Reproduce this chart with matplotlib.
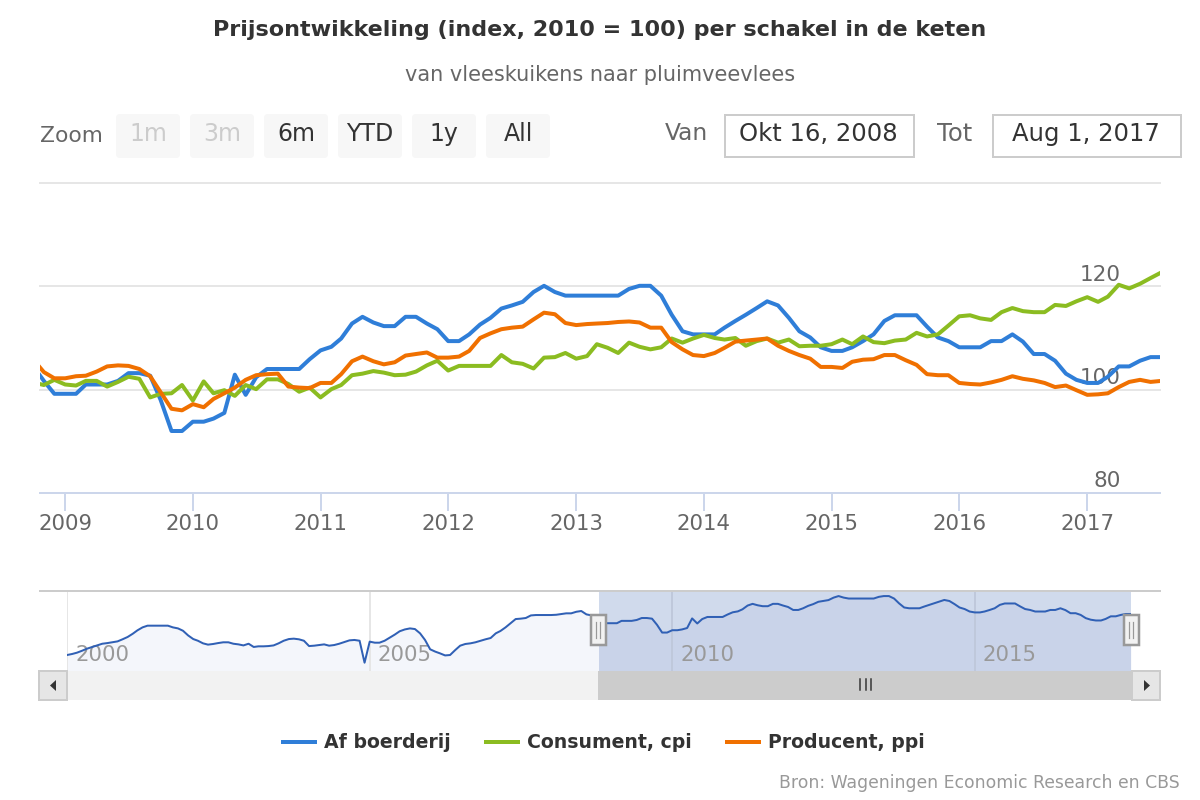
import matplotlib
matplotlib.use("Agg")
import matplotlib.pyplot as plt
import matplotlib.dates as mdates
from matplotlib.patches import FancyBboxPatch, Polygon, Rectangle
import numpy as np
import pandas as pd

# Monthly index values, Oct 2008 - Aug 2017.
months = pd.date_range("2008-10-01", "2017-08-01", freq="MS")

af_boerderij = [
    104.6, 101.7, 99.2,
    99.2, 99.2, 101, 101, 101, 101.7, 103.2, 103.2, 102.7, 98, 92, 92,
    93.8, 93.8, 94.4, 95.5, 102.9, 99, 102.4, 104, 104, 104, 104, 105.9,
    107.6, 108.3, 109.9, 112.8, 114.1, 113, 112.3, 112.3, 114.1, 114.1, 112.8, 111.7,
    109.4, 109.4, 110.7, 112.6, 113.9, 115.7, 116.3, 117, 118.9, 120.1, 118.9, 118.2,
    118.2, 118.2, 118.2, 118.2, 118.2, 119.5, 120.1, 120.1, 118.2, 114.5, 111.3, 110.7,
    110.7, 110.7, 112, 113.3, 114.5, 115.8, 117.1, 116.3, 113.9, 111.3, 110.1, 108.2,
    107.5, 107.5, 108.2, 109.4, 110.7, 113.3, 114.4, 114.4, 114.4, 112.2, 110.1, 109.4,
    108.2, 108.2, 108.2, 109.4, 109.4, 110.7, 109.3, 106.9, 106.9, 105.6, 103.1, 101.9,
    101.3, 101.3, 102.5, 104.5, 104.5, 105.6, 106.3, 106.3,
]
consument = [
    101.4, 100.9, 101.9,
    101, 100.8, 101.7, 101.7, 100.6, 101.5, 102.5, 102.1, 98.5, 99.2, 99.3, 100.9,
    97.9, 101.6, 99.3, 99.9, 98.8, 100.9, 100.1, 102, 102, 101.1, 99.6, 100.4,
    98.5, 100.1, 100.9, 102.8, 103.1, 103.6, 103.3, 102.8, 102.9, 103.5, 104.7, 105.6,
    103.7, 104.6, 104.6, 104.6, 104.6, 106.7, 105.3, 105, 104.1, 106.2, 106.3, 107.1,
    106, 106.5, 108.8, 108.1, 107.1, 109.1, 108.3, 107.8, 108.2, 109.9, 109.1, 109.9,
    110.6, 110, 109.7, 110, 108.5, 109.4, 109.9, 109.1, 109.7, 108.4, 108.5, 108.5,
    108.8, 109.7, 108.8, 110.3, 109.2, 109, 109.5, 109.7, 111, 110.3, 110.7, 112.4,
    114.2, 114.4, 113.8, 113.5, 115, 115.8, 115.2, 115, 115, 116.4, 116.2, 117.1,
    117.9, 117, 118, 120.3, 119.6, 120.5, 121.6, 122.7,
]
producent = [
    105.9, 103.4, 102.2,
    102.2, 102.6, 102.7, 103.5, 104.5, 104.7, 104.6, 104, 102.6, 99.5, 96.3, 96,
    97.2, 96.6, 98.2, 99.3, 100.4, 101.9, 102.8, 103, 103.1, 100.6, 100.4, 100.3,
    101.3, 101.3, 103, 105.5, 106.4, 105.5, 104.9, 105.3, 106.6, 106.9, 107.2, 106.2,
    106.2, 106.4, 107.5, 110, 110.9, 111.7, 112, 112.2, 113.6, 114.9, 114.6, 112.9,
    112.5, 112.7, 112.8, 112.9, 113.1, 113.2, 113, 112, 112, 109.2, 107.8, 106.7,
    106.5, 107.1, 108.1, 109.3, 109.5, 109.7, 109.9, 108.5, 107.5, 106.7, 106, 104.4,
    104.4, 104.2, 105.4, 105.8, 105.9, 106.7, 106.7, 105.7, 104.8, 103, 102.8, 102.8,
    101.3, 101.1, 101, 101.4, 101.9, 102.6, 102.1, 101.8, 101.3, 100.5, 100.8, 99.9,
    99, 99.1, 99.3, 100.5, 101.5, 101.9, 101.5, 101.7,
]

# Older part of the farm series, only shown in the navigator (Jan 2000 - Sep 2008).
history_months = pd.date_range("2000-01-01", "2008-09-01", freq="MS")
history = [
    74.7, 75.5, 76.5, 78, 79.6, 80.9, 82.2, 83.4, 83.9, 84.5, 85.2, 86.8,
    88.6, 91.1, 93.7, 96, 97.3, 97.3, 97.3, 97.3, 97.3, 96, 95.2, 93.4,
    89.8, 87, 85.7, 83.7, 82.7, 83.2, 83.9, 84.5, 84.5, 83.4, 82.9, 82.1,
    83.4, 80.9, 81.4, 81.4, 81.6, 82.1, 83.7, 85.7, 87, 87.3, 86.8, 85.7,
    81.6, 81.9, 82.4, 82.9, 81.9, 82.4, 83.4, 84.7, 86, 86.3, 85.7, 68.8,
    85, 84.2, 84.2, 85.7, 88, 90.4, 93, 94.4, 95.2, 94.7, 91.4, 86.3,
    79.1, 77.3, 76, 74.4, 74.7, 78.5, 81.9, 83.2, 83.7, 84.5, 85.7, 86.8,
    87.8, 91.4, 93.2, 96, 99.1, 102.4, 102.7, 103.2, 105.2, 105.5, 105.5, 105.5,
    105.5, 105.7, 106.2, 106.8, 106.8, 108, 108.6, 106, 105.2,
]

y_ticks = [80, 100, 120, 140]
y_labels = ["80", "100", "120"]
nav_years = [2000, 2005, 2010, 2015]
range_buttons = ["1m", "3m", "6m", "YTD", "1y", "All"]
disabled_buttons = ["1m", "3m"]

BLUE = "#2f7ed8"
GREEN = "#8bbc21"
ORANGE = "#f07000"
GRID = "#e6e6e6"
PX = 0.72  # one pixel in points at dpi 100

fig = plt.figure(figsize=(12, 8), dpi=100)


def px_axes(left, top, right, bottom, **kwargs):
    return fig.add_axes(
        [left / 1200, 1 - bottom / 800, (right - left) / 1200, (bottom - top) / 800],
        **kwargs,
    )


# Main chart.
ax = px_axes(40, 183, 1160, 493)
ax.plot(months, af_boerderij, color=BLUE, lw=4 * PX, label="Af boerderij", zorder=3)
ax.plot(months, consument, color=GREEN, lw=4 * PX, label="Consument, cpi", zorder=4)
ax.plot(months, producent, color=ORANGE, lw=4 * PX, label="Producent, ppi", zorder=5)
ax.set_xlim(pd.Timestamp("2008-10-21"), pd.Timestamp("2017-07-28"))
ax.set_ylim(80.27, 140)
ax.set_yticks(y_ticks)
ax.set_yticklabels([])
ax.grid(axis="y", color=GRID, lw=2 * PX)
for line in ax.get_ygridlines():
    line.set_clip_on(False)
ax.set_axisbelow(True)
ax.xaxis.set_major_locator(mdates.YearLocator())
ax.xaxis.set_major_formatter(mdates.DateFormatter("%Y"))
ax.tick_params(axis="x", length=18 * PX, width=2 * PX, color="#ccd6eb",
               labelsize=15.3, labelcolor="#666666", pad=2)
ax.tick_params(axis="y", length=0)
for side in ["top", "left", "right"]:
    ax.spines[side].set_visible(False)
ax.spines["bottom"].set_color("#ccd6eb")
ax.spines["bottom"].set_linewidth(2 * PX)
for label in y_labels:
    ax.annotate(label, (1, float(label)), xycoords=ax.get_yaxis_transform(),
                xytext=(-39.5 * PX, 1.5 * PX), textcoords="offset points",
                ha="right", va="bottom", fontsize=15.5, color="#666666", zorder=2)

# Navigator below the main chart.
nav = px_axes(67, 591, 1131, 671)
nav_dates = history_months.append(months)
nav_values = np.concatenate([history, af_boerderij])
nav.fill_between(nav_dates, nav_values, 62.4, color="#f4f6fb", lw=0, zorder=1)
nav.plot(nav_dates, nav_values, color="#3060b5", lw=2 * PX, zorder=4)
nav.set_xlim(pd.Timestamp("2000-01-01"), pd.Timestamp("2017-08-01"))
nav.set_ylim(62.4, 124)
nav.axvspan(pd.Timestamp("2008-10-16"), pd.Timestamp("2017-08-01"),
            color="#6685c2", alpha=0.3, lw=0, zorder=2)
for year in nav_years:
    day = mdates.date2num(pd.Timestamp(f"{year}-01-01"))
    nav.axvline(day, color=GRID, lw=2 * PX, zorder=1.5)
    nav.annotate(str(year), (day, 0), xycoords=nav.get_xaxis_transform(),
                 xytext=(8 * PX, 6 * PX), textcoords="offset points",
                 ha="left", va="bottom", fontsize=15.3, color="#999999", zorder=3)
nav.axis("off")

# Everything around the charts, drawn in pixel coordinates.
chrome = fig.add_axes([0, 0, 1, 1], zorder=10)
chrome.set_xlim(0, 1200)
chrome.set_ylim(800, 0)
chrome.axis("off")

chrome.text(600, 30, "Prijsontwikkeling (index, 2010 = 100) per schakel in de keten",
            ha="center", va="center", fontsize=16, fontweight="bold", color="#333333")
chrome.text(600, 75, "van vleeskuikens naar pluimveevlees",
            ha="center", va="center", fontsize=15, color="#666666")

# Range selector buttons.
chrome.text(40, 136, "Zoom", ha="left", va="center", fontsize=15.7, color="#666666")
button_left = [116, 190, 264, 338, 412, 486]
for left, name in zip(button_left, range_buttons):
    chrome.add_patch(FancyBboxPatch((left, 114), 64, 44, boxstyle="round,pad=0,rounding_size=4",
                                    fc="#f7f7f7", ec="none"))
    color = "#cccccc" if name in disabled_buttons else "#333333"
    chrome.text(left + 32, 134, name, ha="center", va="center", fontsize=17, color=color)

# Date inputs.
chrome.text(665, 134, "Van", ha="left", va="center", fontsize=16.8, color="#666666")
chrome.text(937, 134, "Tot", ha="left", va="center", fontsize=17.5, color="#666666")
for left, width, value in [(725, 189, "Okt 16, 2008"), (993, 188, "Aug 1, 2017")]:
    chrome.add_patch(Rectangle((left, 115), width, 42, fc="white", ec="#cccccc", lw=2 * PX))
    chrome.text(left + width / 2 - 1, 134, value, ha="center", va="center",
                fontsize=17.5, color="#333333")

# Navigator outline, scrollbar and handles.
chrome.plot([40, 1160], [591, 591], color="#cccccc", lw=2 * PX)
chrome.add_patch(Rectangle((68, 671), 530, 29, fc="#f2f2f2", ec="none"))
chrome.add_patch(Rectangle((598, 671), 533, 29, fc="#cccccc", ec="none"))
for left in [39, 1132]:
    chrome.add_patch(Rectangle((left, 671), 28, 29, fc="#e6e6e6", ec="#cccccc", lw=2 * PX))
chrome.add_patch(Polygon([[56, 680], [56, 691], [50, 685.5]], fc="#333333", ec="none"))
chrome.add_patch(Polygon([[1144, 680], [1144, 691], [1150, 685.5]], fc="#333333", ec="none"))
for x in [860, 865.5, 871]:
    chrome.plot([x, x], [679, 690], color="#333333", lw=1.5 * PX)
for x in [598, 1131]:
    chrome.add_patch(Rectangle((x - 7, 615), 15, 30, fc="#f2f2f2", ec="#999999", lw=2.5 * PX))
    for dx in [-2, 2]:
        chrome.plot([x + dx, x + dx], [622, 638], color="#999999", lw=1.2 * PX)

# Legend and source line.
handles, labels = ax.get_legend_handles_labels()
legend = fig.legend(handles, labels, loc="center", bbox_to_anchor=(604 / 1200, 1 - 743 / 800),
                    ncol=3, frameon=False, handlelength=1.7, handletextpad=0.48,
                    columnspacing=1.85, prop={"size": 13.6, "weight": "bold"})
for text in legend.get_texts():
    text.set_color("#333333")
chrome.text(1180, 783, "Bron: Wageningen Economic Research en CBS",
            ha="right", va="center", fontsize=12.4, color="#999999")

fig.savefig("out.png", dpi=100)
